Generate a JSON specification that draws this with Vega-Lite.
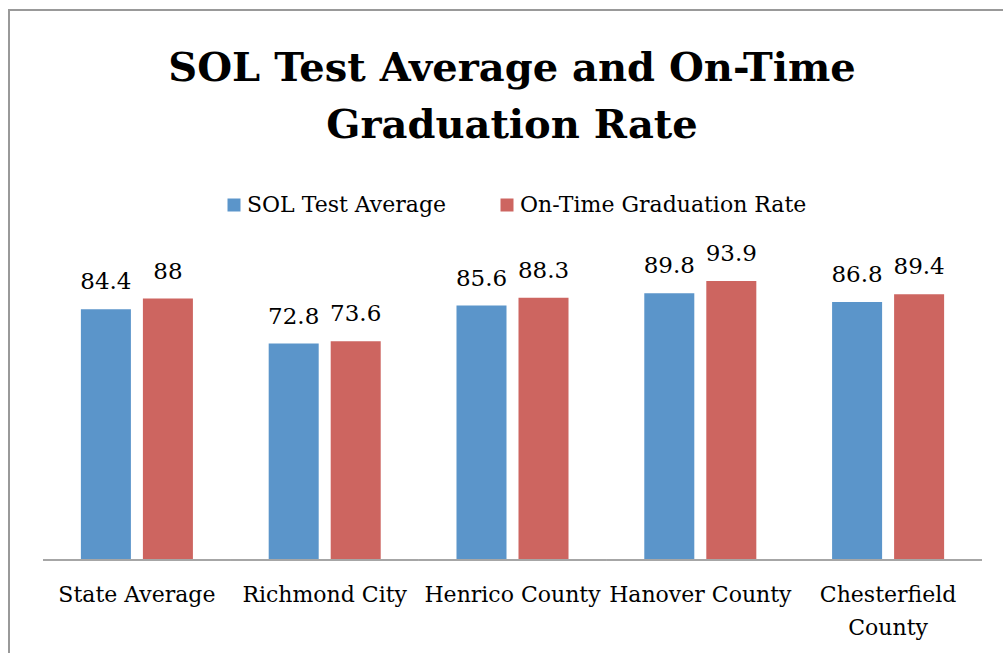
{
  "$schema": "https://vega.github.io/schema/vega-lite/v6.json",
  "width": 1000,
  "height": 650,
  "autosize": {"type": "none"},
  "padding": {"left": 9, "top": 10, "right": 0, "bottom": 0},
  "background": "white",
  "title": {
    "text": ["SOL Test Average and On-Time", "Graduation Rate"],
    "font": "DejaVu Serif",
    "fontSize": 40,
    "fontWeight": "bold",
    "color": "black",
    "anchor": "middle",
    "frame": "group",
    "lineHeight": 57,
    "baseline": "alphabetic",
    "dx": 3,
    "offset": -168
  },
  "data": {
    "values": [
      {"county": "State Average", "measure": "SOL Test Average", "value": 84.4},
      {"county": "State Average", "measure": "On-Time Graduation Rate", "value": 88},
      {"county": "Richmond City", "measure": "SOL Test Average", "value": 72.8},
      {"county": "Richmond City", "measure": "On-Time Graduation Rate", "value": 73.6},
      {"county": "Henrico County", "measure": "SOL Test Average", "value": 85.6},
      {"county": "Henrico County", "measure": "On-Time Graduation Rate", "value": 88.3},
      {"county": "Hanover County", "measure": "SOL Test Average", "value": 89.8},
      {"county": "Hanover County", "measure": "On-Time Graduation Rate", "value": 93.9},
      {"county": "Chesterfield County", "measure": "SOL Test Average", "value": 86.8},
      {"county": "Chesterfield County", "measure": "On-Time Graduation Rate", "value": 89.4}
    ]
  },
  "encoding": {
    "x": {
      "field": "county",
      "type": "nominal",
      "sort": ["State Average", "Richmond City", "Henrico County", "Hanover County", "Chesterfield County"],
      "scale": {"paddingInner": 0, "paddingOuter": 0.1624, "align": 0.5574},
      "axis": {
        "title": null,
        "labelAngle": 0,
        "ticks": false,
        "domain": false,
        "offset": -101,
        "labelFont": "DejaVu Serif",
        "labelFontSize": 22,
        "labelColor": "black",
        "labelPadding": 25,
        "labelLimit": 400,
        "labelLineHeight": 33,
        "labelExpr": "datum.label == 'Chesterfield County' ? ['Chesterfield', 'County'] : datum.label"
      }
    },
    "y": {
      "field": "value",
      "type": "quantitative",
      "scale": {"domain": [-34.12, 185.47], "nice": false, "zero": false},
      "axis": null
    }
  },
  "layer": [
    {
      "mark": {"type": "bar", "color": "#A6A6A6"},
      "encoding": {
        "y": {"datum": 0, "type": "quantitative"},
        "y2": {"datum": -0.68}
      }
    },
    {
      "mark": {"type": "bar"},
      "encoding": {
        "xOffset": {
          "field": "measure",
          "type": "nominal",
          "sort": ["SOL Test Average", "On-Time Graduation Rate"],
          "scale": {"paddingInner": 0.1935, "paddingOuter": 0.611}
        },
        "y2": {"datum": 0},
        "color": {
          "field": "measure",
          "type": "nominal",
          "sort": ["SOL Test Average", "On-Time Graduation Rate"],
          "scale": {"domain": ["SOL Test Average", "On-Time Graduation Rate"], "range": ["#5B95CA", "#CD6560"]},
          "legend": {
            "title": null,
            "orient": "none",
            "direction": "horizontal",
            "legendX": 214,
            "legendY": 184,
            "symbolType": "square",
            "symbolSize": 169,
            "symbolStrokeWidth": 0,
            "labelFont": "DejaVu Serif",
            "labelFontSize": 22,
            "labelColor": "black",
            "labelOffset": 2,
            "labelLimit": 400,
            "columnPadding": 50
          }
        }
      }
    },
    {
      "mark": {"type": "text", "font": "DejaVu Serif", "fontSize": 23, "baseline": "alphabetic", "dy": -20, "color": "black"},
      "encoding": {
        "xOffset": {
          "field": "measure",
          "type": "nominal",
          "sort": ["SOL Test Average", "On-Time Graduation Rate"],
          "scale": {"paddingInner": 0.1935, "paddingOuter": 0.611}
        },
        "text": {"field": "value", "type": "quantitative"}
      }
    }
  ],
  "config": {"view": {"stroke": "#999999", "strokeWidth": 2}, "axis": {"grid": false}}
}
